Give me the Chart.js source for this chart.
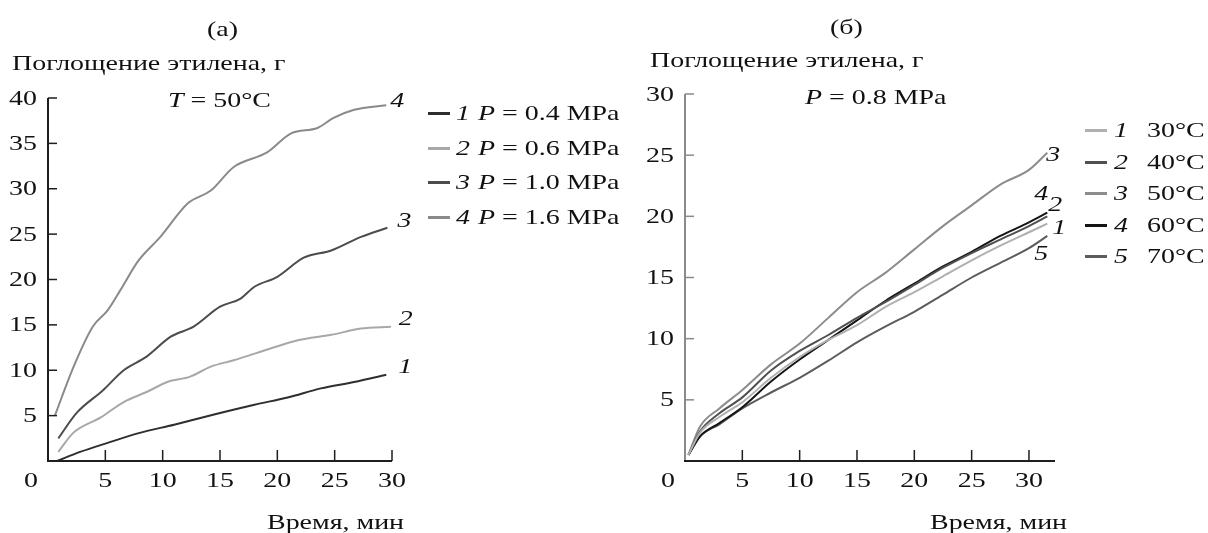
<!DOCTYPE html>
<html>
<head>
<meta charset="utf-8">
<script src="https://cdn.jsdelivr.net/npm/chart.js@4.4.0/dist/chart.umd.min.js"></script>
<style>
html,body{margin:0;padding:0;background:#fff;width:1208px;height:533px;overflow:hidden;font-family:"Liberation Serif",serif;color:#111}
canvas{position:absolute;top:0}
#cA{left:0}
#cB{left:640px}
.s{position:absolute;white-space:nowrap;font-size:21px;line-height:24px;transform-origin:0 50%;transform:scaleX(1.33)}
.sw{position:absolute;width:22px;height:3px}
</style>
</head>
<body>
<canvas id="cA" width="640" height="533"></canvas>
<canvas id="cB" width="568" height="533"></canvas>

<div class="s" style="left:207px;top:17px">(а)</div>
<div class="s" style="left:830px;top:15px">(б)</div>
<div class="s" style="left:12px;top:51px">Поглощение этилена, г</div>
<div class="s" style="left:650px;top:48px">Поглощение этилена, г</div>
<div class="s" style="left:168px;top:88px"><i>T</i> = 50°C</div>
<div class="s" style="left:805px;top:85px"><i>P</i> = 0.8 MPa</div>
<div class="s" style="left:267px;top:510px">Время, мин</div>
<div class="s" style="left:930px;top:510px">Время, мин</div>
<div id="legA"></div>
<div id="legB"></div>

<script>
// (а) T = 50°C, pressure series
const pressures=['0.4','0.6','1.0','1.6'];
const tA1=[0.8,2.8,5.2,8,11,14.4,18,20.9,23.8,26.7,29.5];
const mA1=[0.0,1.0,2.0,3.1,4.0,5.1,6.2,7.0,8.0,8.7,9.5];
const tA2=[0.9,2.2,4.6,6.6,8.6,10.4,12.4,14.2,16.2,19.4,21.8,24.7,27.3,29.9];
const mA2=[1.0,3.1,4.8,6.5,7.6,8.7,9.3,10.4,11.1,12.4,13.3,13.9,14.6,14.8];
const tA3=[0.9,2.5,4.8,6.6,8.6,10.7,12.7,15,16.8,18,20,22.3,24.7,27.3,29.6];
const mA3=[2.5,5.3,7.8,10.0,11.5,13.7,14.8,17.0,17.9,19.2,20.3,22.4,23.2,24.7,25.7];
const tA4=[0.6,2.2,3.9,5.2,6.3,7.9,9.8,12.2,14.2,16.2,19.1,21.2,23.5,24.9,26.7,29.5];
const mA4=[5.0,10.3,14.8,16.6,18.8,22.1,24.7,28.4,29.8,32.4,34.0,36.1,36.7,37.8,38.7,39.2];
const xTicksA=[5,10,15,20,25,30];
const yTicksA=[5,10,15,20,25,30,35,40];

// (б) P = 0.8 MPa, temperature series
const temps=['30','40','50','60','70'];
const tB=[0.3,1.3,3,5,7.5,10,12.5,15,17.5,20,22.5,25,27.5,30,31.6];
const mB1=[0.5,2.3,3.6,4.8,6.8,8.5,9.9,11.1,12.6,13.8,15.1,16.4,17.6,18.7,19.4];
const mB2=[0.5,2.4,3.9,5.2,7.4,9.0,10.3,11.7,13.0,14.4,15.8,17.0,18.1,19.2,20.0];
const mB3=[0.5,2.8,4.3,5.8,7.9,9.6,11.7,13.8,15.4,17.3,19.2,20.9,22.6,23.8,25.2];
const mB4=[0.5,2.0,3.1,4.4,6.5,8.3,9.9,11.5,13.1,14.5,15.9,17.1,18.4,19.5,20.3];
const mB5=[0.5,2.0,3.0,4.3,5.6,6.8,8.2,9.7,11.0,12.2,13.6,15.0,16.2,17.4,18.4];
const xTicksB=[5,10,15,20,25,30];
const yTicksB=[5,10,15,20,25,30];

// styles
const colA=['#2e2e2e','#a8a8a8','#4c4c4c','#8a8a8a'];
const colB=['#b0b0b0','#505050','#8c8c8c','#151515','#5c5c5c'];
const offA=[[19,-7],[15,-7],[17,-6],[11,-4]];
const offB=[[12,5],[8,-11],[6,3],[-6,-18],[-6,19]];
const SX=1.33,FS=21;

const pts=(t,m)=>t.map((x,i)=>({x:x,y:m[i]}));

function sText(ctx,s,x,y,align,italic){
  ctx.save();ctx.translate(x,y);ctx.scale(SX,1);
  ctx.font=(italic?'italic ':'')+FS+'px "Liberation Serif"';
  ctx.textAlign=align;ctx.textBaseline='middle';ctx.fillStyle='#111';
  ctx.fillText(s,0,0);ctx.restore();
}

const axesPlugin={
  id:'axes',
  afterDraw(chart,args,o){
    const ctx=chart.ctx,xs=chart.scales.x,ys=chart.scales.y;
    const x0=xs.getPixelForValue(0),y0=ys.getPixelForValue(0);
    const xEnd=xs.getPixelForValue(xs.max),yTop=ys.getPixelForValue(ys.max);
    ctx.save();
    ctx.lineWidth=2;
    ctx.strokeStyle=o.yColor;
    ctx.beginPath();ctx.moveTo(x0,y0);ctx.lineTo(x0,yTop);ctx.stroke();
    ctx.lineWidth=1.5;
    o.yTicks.forEach(v=>{const y=ys.getPixelForValue(v);ctx.beginPath();ctx.moveTo(x0,y);ctx.lineTo(x0+9,y);ctx.stroke();});
    ctx.lineWidth=2;
    ctx.strokeStyle=o.xColor;
    ctx.beginPath();ctx.moveTo(x0-1,y0);ctx.lineTo(xEnd,y0);ctx.stroke();
    ctx.lineWidth=1.5;
    o.xTicks.forEach(v=>{const x=xs.getPixelForValue(v);ctx.beginPath();ctx.moveTo(x,y0);ctx.lineTo(x,y0-11);ctx.stroke();});
    ctx.restore();
    o.yTicks.forEach(v=>sText(ctx,String(v),x0-11,ys.getPixelForValue(v)+1,'right'));
    o.xTicks.forEach(v=>sText(ctx,String(v),xs.getPixelForValue(v),y0+20,'center'));
    sText(ctx,'0',x0-17,y0+20,'center');
    chart.data.datasets.forEach((d,i)=>{
      const p=d.data[d.data.length-1];
      sText(ctx,String(i+1),xs.getPixelForValue(p.x)+o.off[i][0],ys.getPixelForValue(p.y)+o.off[i][1],'center',true);
    });
  }
};

function makeChart(id,sets,cols,xMax,yMax,pad,ax){
  return new Chart(document.getElementById(id),{
    type:'line',
    data:{datasets:sets.map((s,i)=>({data:s,borderColor:cols[i],borderWidth:2,pointRadius:0,cubicInterpolationMode:'monotone',fill:false}))},
    options:{
      responsive:false,animation:false,
      layout:{padding:pad},
      plugins:{legend:{display:false},tooltip:{enabled:false},axes:ax},
      scales:{
        x:{type:'linear',display:false,min:0,max:xMax},
        y:{type:'linear',display:false,min:0,max:yMax}
      }
    },
    plugins:[axesPlugin]
  });
}

makeChart('cA',[pts(tA1,mA1),pts(tA2,mA2),pts(tA3,mA3),pts(tA4,mA4)],colA,30,40,
  {left:48,top:98,right:248,bottom:72},
  {xTicks:xTicksA,yTicks:yTicksA,xColor:'#1e1e1e',yColor:'#1e1e1e',off:offA});
makeChart('cB',[pts(tB,mB1),pts(tB,mB2),pts(tB,mB3),pts(tB,mB4),pts(tB,mB5)],colB,32.27,30,
  {left:45,top:94,right:153,bottom:72},
  {xTicks:xTicksB,yTicks:yTicksB,xColor:'#1e1e1e',yColor:'#8a8a8a',off:offB});

// legends
function legend(el,labels,cols,x,y0,dy,nx,tx){
  let h='';
  labels.forEach((l,i)=>{
    const y=y0+i*dy;
    h+=`<div class="sw" style="left:${x}px;top:${y-1}px;background:${cols[i]}"></div>`;
    h+=`<div class="s" style="left:${x+nx}px;top:${y-12}px"><i>${i+1}</i></div>`;
    h+=`<div class="s" style="left:${x+tx}px;top:${y-12}px">${l}</div>`;
  });
  document.getElementById(el).innerHTML=h;
}
legend('legA',pressures.map(p=>'<i>P</i> = '+p+' MPa'),colA,428,113,34.7,28,50);
legend('legB',temps.map(t=>t+'°C'),colB,1085,130,31.5,29,62);
</script>
</body>
</html>
